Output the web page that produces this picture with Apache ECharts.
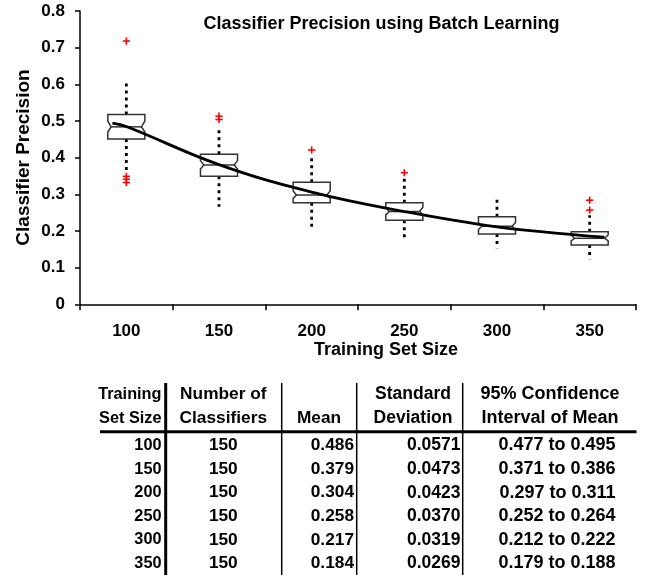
<!DOCTYPE html>
<html><head><meta charset="utf-8">
<script src="https://cdn.jsdelivr.net/npm/echarts@6/dist/echarts.min.js"></script>
<style>html,body{margin:0;padding:0;background:#fff}#c{width:648px;height:575px}</style>
</head><body><div id="c"></div>
<script>
// ---- data ----
const categories = ['100', '150', '200', '250', '300', '350'];
const yTickLabels = ['0', '0.1', '0.2', '0.3', '0.4', '0.5', '0.6', '0.7', '0.8'];
const boxQ1 = [0.451, 0.349, 0.277, 0.229, 0.192, 0.162];
const boxMedian = [0.484, 0.380, 0.298, 0.253, 0.213, 0.180];
const boxQ3 = [0.518, 0.409, 0.333, 0.277, 0.239, 0.198];
const notchLow = [0.470, 0.369, 0.289, 0.244, 0.204, 0.173];
const notchHigh = [0.500, 0.392, 0.309, 0.265, 0.223, 0.190];
const whiskerLow = [0.360, 0.266, 0.210, 0.180, 0.153, 0.123];
const whiskerHigh = [0.607, 0.482, 0.403, 0.344, 0.286, 0.243];
const outliers = [
  [0.718, 0.349, 0.341, 0.332],
  [0.513, 0.504],
  [0.421],
  [0.359],
  [],
  [0.284, 0.257]
];
const trendX = [0.85, 1, 2, 3, 4, 5, 6, 6.16];
const trendY = [0.494, 0.485, 0.381, 0.306, 0.253, 0.211, 0.186, 0.183];

const tableHead1 = ['Training', 'Number of', '', 'Standard', '95% Confidence'];
const tableHead2 = ['Set Size', 'Classifiers', 'Mean', 'Deviation', 'Interval of Mean'];
const tableSizes = ['100', '150', '200', '250', '300', '350'];
const tableCounts = ['150', '150', '150', '150', '150', '150'];
const tableMeans = ['0.486', '0.379', '0.304', '0.258', '0.217', '0.184'];
const tableSD = ['0.0571', '0.0473', '0.0423', '0.0370', '0.0319', '0.0269'];
const tableCI = ['0.477 to 0.495', '0.371 to 0.386', '0.297 to 0.311', '0.252 to 0.264', '0.212 to 0.222', '0.179 to 0.188'];

// ---- build ----
const FONT = "'Liberation Sans', Arial, sans-serif";
const boxData = categories.map((c, i) => [i, boxQ1[i], boxMedian[i], boxQ3[i], notchLow[i], notchHigh[i], whiskerLow[i], whiskerHigh[i]]);
const outlierData = [];
outliers.forEach((arr, i) => arr.forEach(v => outlierData.push([i, v])));
const trendData = trendX.map((x, i) => [x, trendY[i]]);

function txt(x, y, s, align, size) {
  return {
    type: 'text', x: x, y: y, silent: true,
    style: { text: s, fill: '#000', font: 'bold ' + size + 'px ' + FONT, textAlign: align, textVerticalAlign: 'middle' }
  };
}
const graphics = [];
graphics.push(txt(381.5, 24, 'Classifier Precision using Batch Learning', 'center', 18));
graphics.push(txt(386, 350, 'Training Set Size', 'center', 18));
graphics.push({
  type: 'text', x: 23.7, y: 157.5, rotation: Math.PI / 2, silent: true,
  style: { text: 'Classifier Precision', fill: '#000', font: 'bold 19px ' + FONT, textAlign: 'center', textVerticalAlign: 'middle' }
});
// table lines
function line(x1, y1, x2, y2, w) {
  return { type: 'line', silent: true, shape: { x1: x1, y1: y1, x2: x2, y2: y2 }, style: { stroke: '#000', lineWidth: w } };
}
graphics.push(line(100, 431.7, 636.5, 431.7, 3));
graphics.push(line(165.7, 383, 165.7, 575, 3));
graphics.push(line(281.7, 383, 281.7, 575, 1.5));
graphics.push(line(356.7, 383, 356.7, 575, 1.5));
graphics.push(line(462.7, 383, 462.7, 575, 1.5));
// header
const colSize = [16.3, 17.3, 17.3, 17.5, 18];
const hdrX = [161.5, 223.3, 319, 413, 550];
const hdrAlign = ['right', 'center', 'center', 'center', 'center'];
tableHead1.forEach((s, j) => { if (s) graphics.push(txt(hdrX[j], 394.5, s, hdrAlign[j], colSize[j])); });
tableHead2.forEach((s, j) => graphics.push(txt(hdrX[j], 418.5, s, hdrAlign[j], colSize[j])));
// rows
const cols = [tableSizes, tableCounts, tableMeans, tableSD, tableCI];
const colX = [161.5, 223.3, 354, 460.5, 615.5];
const colAlign = ['right', 'center', 'right', 'right', 'right'];
tableSizes.forEach((s, i) => {
  const y = 445.5 + i * 23.6;
  cols.forEach((col, j) => graphics.push(txt(colX[j], y, col[i], colAlign[j], colSize[j])));
});

const chart = echarts.init(document.getElementById('c'), null, { renderer: 'canvas' });
chart.setOption({
  animation: false,
  backgroundColor: '#fff',
  grid: { left: 80, top: 11, width: 556, height: 293.3 },
  xAxis: [{
    type: 'category', data: categories, boundaryGap: true,
    axisLine: { lineStyle: { color: '#000', width: 1.5 } },
    axisTick: { show: true, length: 6, lineStyle: { color: '#000', width: 1.5 } },
    axisLabel: { color: '#000', fontWeight: 'bold', fontSize: 17, fontFamily: FONT, margin: 19 },
    splitLine: { show: false }
  }, {
    type: 'value', min: 0.5, max: 6.5, show: false
  }],
  yAxis: {
    type: 'value', min: 0, max: 0.8, interval: 0.1,
    axisLine: { show: true, lineStyle: { color: '#000', width: 1.5 } },
    axisTick: { show: true, length: 5, lineStyle: { color: '#000', width: 1.5 } },
    axisLabel: { color: '#000', fontWeight: 'bold', fontSize: 17, fontFamily: FONT, margin: 15,
      formatter: v => yTickLabels[Math.round(v * 10)] },
    splitLine: { show: false }
  },
  graphic: graphics,
  series: [{
    type: 'custom', xAxisIndex: 0, yAxisIndex: 0,
    encode: { x: 0, y: [1, 2, 3, 6, 7] },
    data: boxData,
    renderItem: function (params, api) {
      const i = api.value(0);
      const cx = api.coord([i, api.value(2)])[0];
      const bw = api.size([1, 0])[0] * 0.4;
      const x0 = cx - bw / 2, x1 = cx + bw / 2, ind = bw * 0.09;
      const Y = k => api.coord([i, api.value(k)])[1];
      const yq1 = Y(1), ymed = Y(2), yq3 = Y(3), ynl = Y(4), ynh = Y(5), ywl = Y(6), ywh = Y(7);
      const dash = { stroke: '#000', lineWidth: 2.8, lineDash: [3, 4] };
      return {
        type: 'group', children: [
          { type: 'line', shape: { x1: cx, y1: yq3, x2: cx, y2: ywh }, style: dash },
          { type: 'line', shape: { x1: cx, y1: yq1, x2: cx, y2: ywl }, style: dash },
          { type: 'polygon', shape: { points: [[x0, yq3], [x1, yq3], [x1, ynh], [x1 - ind, ymed], [x1, ynl], [x1, yq1], [x0, yq1], [x0, ynl], [x0 + ind, ymed], [x0, ynh]] },
            style: { fill: '#fff', stroke: '#333', lineWidth: 1.5 } },
          { type: 'line', shape: { x1: x0 + ind, y1: ymed, x2: x1 - ind, y2: ymed }, style: { stroke: '#333', lineWidth: 1.5 } }
        ]
      };
    },
    z: 2
  }, {
    type: 'custom', xAxisIndex: 0, yAxisIndex: 0,
    encode: { x: 0, y: 1 },
    data: outlierData,
    renderItem: function (params, api) {
      const p = api.coord([api.value(0), api.value(1)]);
      const r = 3.6, st = { stroke: '#ff0000', lineWidth: 1.6 };
      return {
        type: 'group', children: [
          { type: 'line', shape: { x1: p[0] - r, y1: p[1], x2: p[0] + r, y2: p[1] }, style: st },
          { type: 'line', shape: { x1: p[0], y1: p[1] - r, x2: p[0], y2: p[1] + r }, style: st }
        ]
      };
    },
    z: 3
  }, {
    type: 'line', xAxisIndex: 1, yAxisIndex: 0,
    data: trendData, smooth: 0.4, showSymbol: false, symbol: 'none',
    lineStyle: { color: '#000', width: 2.8 },
    z: 4
  }]
});
</script></body></html>
